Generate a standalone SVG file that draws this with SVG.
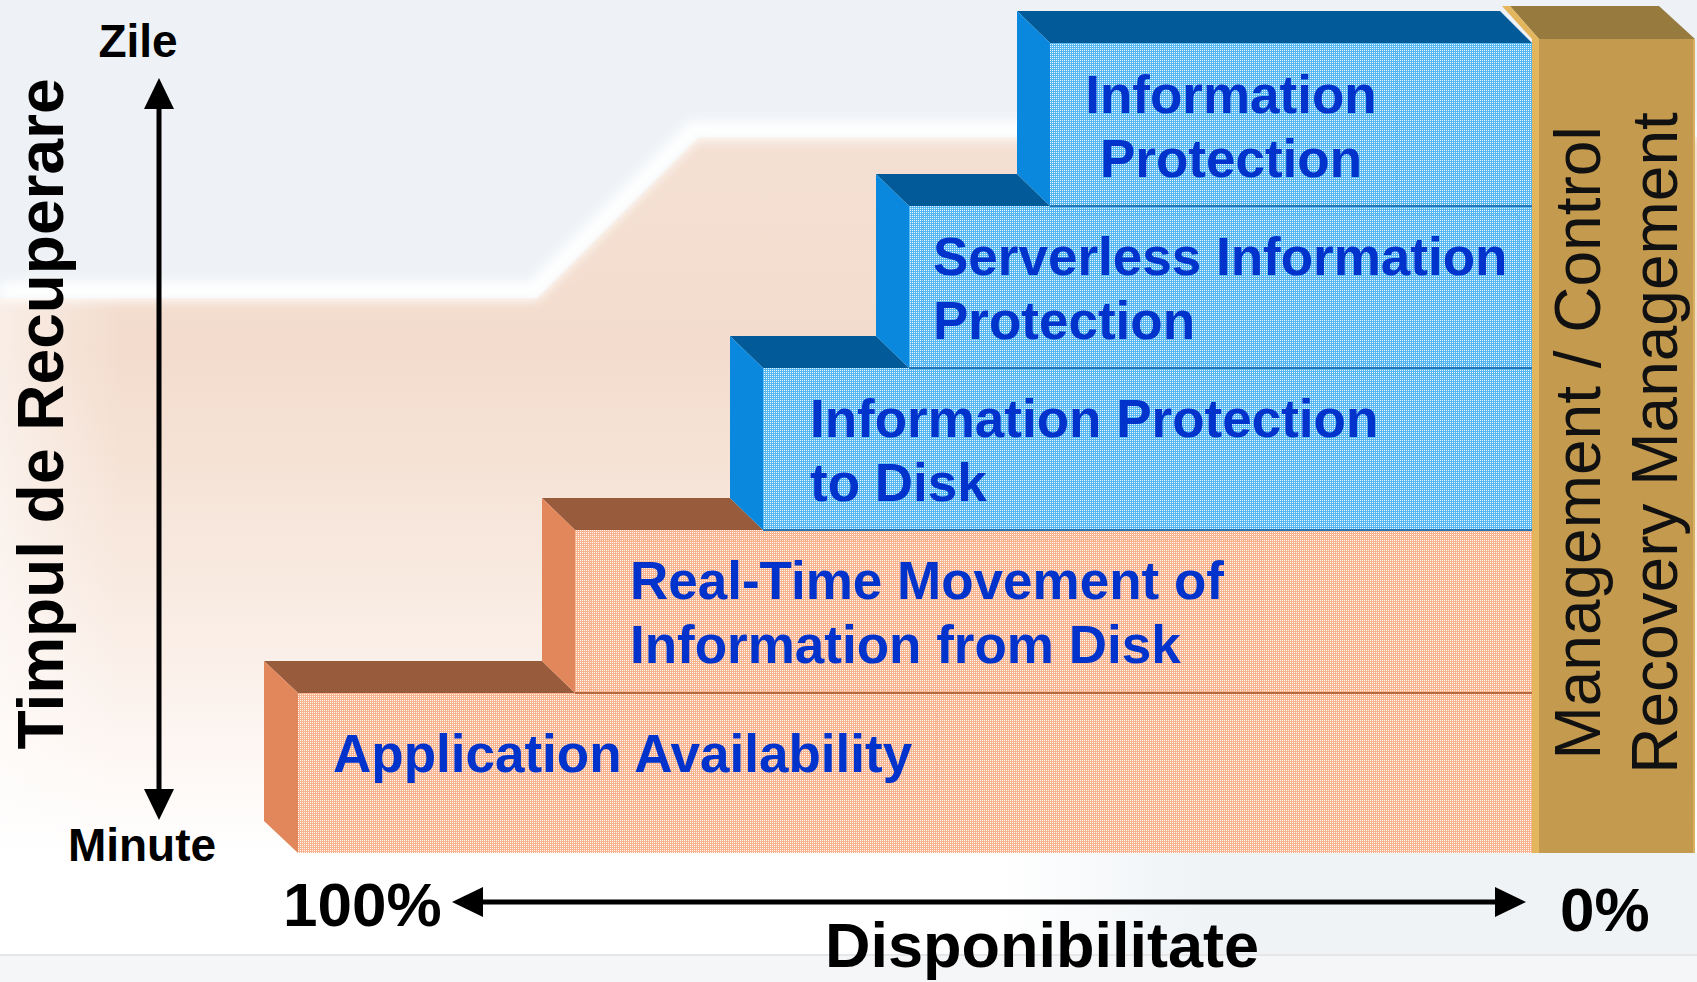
<svg xmlns="http://www.w3.org/2000/svg" width="1697" height="982" viewBox="0 0 1697 982">
<defs>
<style>
.lbl{font-family:"Liberation Sans",Arial,sans-serif;font-weight:bold;fill:#0033cc;font-size:53px}
.ax{font-family:"Liberation Sans",Arial,sans-serif;font-weight:bold;fill:#000}
.mg{font-family:"Liberation Sans",Arial,sans-serif;font-size:64px;fill:#111}
.bfront{fill:url(#blueDots)}
.ofront{fill:url(#orangeDots)}
.bside{fill:#0a88de}
.btop{fill:#025a98}
.oside{fill:#e2875c}
.otop{fill:#985c3c}
.bedge{stroke:#2476b6;stroke-width:2}
.oedge{stroke:#b5693f;stroke-width:2}
.binner{fill:none;stroke:#3ea2e2;stroke-width:1;stroke-dasharray:1 2;opacity:0.7}
.oinner{fill:none;stroke:#f19c74;stroke-width:1;stroke-dasharray:1 2;opacity:0.7}
.axis{stroke:#000;stroke-width:5;fill:none}
</style>
<pattern id="blueDots" width="2" height="2" patternUnits="userSpaceOnUse">
<rect width="2" height="2" fill="#56b6f0"/>
<rect width="1" height="1" fill="#ffffff" opacity="0.9"/>
</pattern>
<pattern id="orangeDots" width="2" height="2" patternUnits="userSpaceOnUse">
<rect width="2" height="2" fill="#f9b38e"/>
<rect width="1" height="1" fill="#ffffff" opacity="0.9"/>
</pattern>
<linearGradient id="band" x1="0" y1="137" x2="0" y2="853" gradientUnits="userSpaceOnUse">
<stop offset="0" stop-color="#f4e0d3"/>
<stop offset="0.3" stop-color="#f3dccd"/>
<stop offset="0.6" stop-color="#f8e9df"/>
<stop offset="0.85" stop-color="#fdf6f2"/>
<stop offset="1" stop-color="#ffffff"/>
</linearGradient>
<linearGradient id="bandSide" x1="0" y1="0" x2="120" y2="0" gradientUnits="userSpaceOnUse">
<stop offset="0" stop-color="#ffffff" stop-opacity="0.5"/>
<stop offset="1" stop-color="#ffffff" stop-opacity="0"/>
</linearGradient>
<linearGradient id="bottomBand" x1="1000" y1="0" x2="1200" y2="0" gradientUnits="userSpaceOnUse">
<stop offset="0" stop-color="#ffffff"/>
<stop offset="1" stop-color="#eff3f6"/>
</linearGradient>
<filter id="blur" x="-10%" y="-50%" width="120%" height="200%">
<feGaussianBlur stdDeviation="6"/>
</filter>
<marker id="arr" viewBox="0 0 31 30" markerWidth="31" markerHeight="30" refX="21" refY="15" orient="auto-start-reverse" markerUnits="userSpaceOnUse">
<path d="M0,0 L31,15 L0,30 Z" fill="#000"/>
</marker>
</defs>

<g id="background">
<rect x="0" y="0" width="1697" height="982" fill="#eef2f6"/>
<path d="M0,298 L537,298 L698,137 L1697,137 L1697,853 L0,853 Z" fill="url(#band)"/>
<rect x="0" y="298" width="120" height="555" fill="url(#bandSide)"/>
<polyline points="0,291 533,291 694,130 1697,130" fill="none" stroke="#ffffff" stroke-width="18" filter="url(#blur)"/>
<rect x="0" y="853" width="1697" height="102" fill="url(#bottomBand)"/>
<rect x="0" y="955" width="1697" height="27" fill="#f5f6f7"/>
<line x1="0" y1="955" x2="1697" y2="955" stroke="#e4e6e8" stroke-width="2"/>
</g>

<g id="mgmt-column">
<polygon points="1510,6 1659,6 1695,39 1539,39" fill="#977a3e"/>
<rect x="1539" y="39" width="156" height="814" fill="#c49a4e"/>
<line x1="1694" y1="39" x2="1694" y2="853" stroke="#d8b060" stroke-width="2"/>
<text class="mg" transform="translate(1600,443) rotate(-90)" text-anchor="middle">Management / Control</text>
<text class="mg" transform="translate(1677,443) rotate(-90)" text-anchor="middle">Recovery Management</text>
</g>

<g id="step-application">
<polygon class="otop" points="264,661 542,661 575,693 298,693"/>
<polygon class="oside" points="264,661 298,693 298,853 264,821"/>
<rect class="ofront" x="298" y="693" width="1234" height="160"/>
<rect class="oinner" x="313.5" y="709.5" width="623" height="84"/>
<text class="lbl" x="333" y="772">Application Availability</text>
</g>

<g id="step-realtime">
<polygon class="otop" points="542,498 730,498 763,530 575,530"/>
<polygon class="oside" points="542,498 575,530 575,693 542,661"/>
<rect class="ofront" x="575" y="530" width="957" height="163"/>
<line class="oedge" x1="575" y1="693" x2="1532" y2="693"/>
<rect class="oinner" x="590.5" y="540.5" width="671" height="150"/>
<text class="lbl" x="630" y="599">Real-Time Movement of</text>
<text class="lbl" x="630" y="663">Information from Disk</text>
</g>

<g id="step-disk">
<polygon class="btop" points="730,336 876,336 909,368 763,368"/>
<polygon class="bside" points="730,336 763,368 763,530 730,498"/>
<rect class="bfront" x="763" y="368" width="769" height="162"/>
<line class="bedge" x1="763" y1="530" x2="1532" y2="530"/>
<rect class="binner" x="789.5" y="383.5" width="600" height="144"/>
<text class="lbl" x="810" y="437">Information Protection</text>
<text class="lbl" x="810" y="501">to Disk</text>
</g>

<g id="step-serverless">
<polygon class="btop" points="876,174 1017,174 1050,206 909,206"/>
<polygon class="bside" points="876,174 909,206 909,368 876,336"/>
<rect class="bfront" x="909" y="206" width="623" height="162"/>
<line class="bedge" x1="909" y1="368" x2="1532" y2="368"/>
<rect class="binner" x="922.5" y="214.5" width="596" height="148"/>
<text class="lbl" x="933" y="275">Serverless Information</text>
<text class="lbl" x="933" y="339">Protection</text>
</g>

<g id="step-info">
<polygon class="btop" points="1017,11 1500,11 1532,43 1050,43"/>
<polygon class="bside" points="1017,11 1050,43 1050,206 1017,174"/>
<rect class="bfront" x="1050" y="43" width="482" height="163"/>
<line class="bedge" x1="1050" y1="206" x2="1532" y2="206"/>
<rect class="binner" x="1061.5" y="51.5" width="335" height="150"/>
<text class="lbl" x="1231" y="113" text-anchor="middle">Information</text>
<text class="lbl" x="1231" y="177" text-anchor="middle">Protection</text>
</g>

<g id="mgmt-edge">
<polygon points="1502,6 1510,6 1539,39 1539,853 1532,853 1532,39" fill="#e3b55c"/>
</g>

<g id="axis-labels">
<text class="ax" x="138" y="57" font-size="46" text-anchor="middle">Zile</text>
<text class="ax" x="142" y="861" font-size="46" text-anchor="middle">Minute</text>
<text class="ax" transform="translate(63,414) rotate(-90)" font-size="64" text-anchor="middle">Timpul de Recuperare</text>
<text class="ax" x="283" y="926" font-size="62">100%</text>
<text class="ax" x="1560" y="931" font-size="62">0%</text>
<text class="ax" x="825" y="967" font-size="63">Disponibilitate</text>
</g>

<g id="connectors">
<line class="axis" x1="159" y1="88" x2="159" y2="810" marker-start="url(#arr)" marker-end="url(#arr)"/>
<line class="axis" x1="462" y1="902" x2="1516" y2="902" marker-start="url(#arr)" marker-end="url(#arr)"/>
</g>
</svg>
